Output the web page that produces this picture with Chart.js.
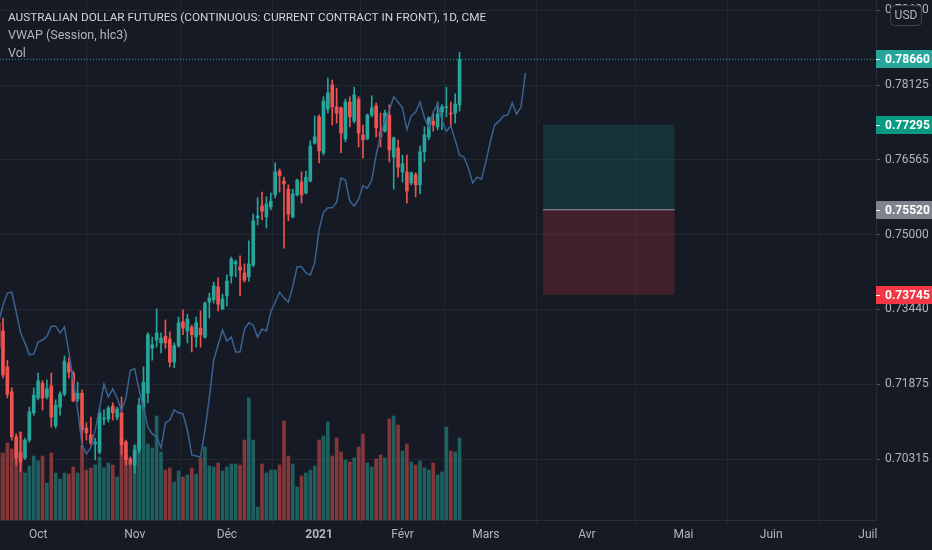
<!DOCTYPE html>
<html>
<head>
<meta charset="utf-8">
<script src="https://cdn.jsdelivr.net/npm/chart.js@4.4.1/dist/chart.umd.min.js"></script>
<style>
    html, body { margin: 0; padding: 0; background: #161A25; }
    #wrap { width: 932px; height: 550px; position: relative; }
</style>
</head>
<body>
<div id="wrap"><canvas id="grafico"></canvas></div>
<script>
// OHLC diario, barra 0 = meados de setembro 2020
const opens = [
    0.7316, 0.7299, 0.7224, 0.7172, 0.7078, 0.7046, 0.7034, 0.7071, 0.7128, 0.7159,
    0.7190, 0.7161, 0.7184, 0.7101, 0.7140, 0.7167, 0.7232, 0.7211, 0.7157, 0.7169,
    0.7096, 0.7082, 0.7063, 0.7046, 0.7115, 0.7115, 0.7142, 0.7119, 0.7128, 0.7067,
    0.7032, 0.7019, 0.7050, 0.7140, 0.7169, 0.7263, 0.7280, 0.7274, 0.7288, 0.7282,
    0.7234, 0.7268, 0.7318, 0.7299, 0.7307, 0.7286, 0.7305, 0.7286, 0.7359, 0.7364,
    0.7391, 0.7345, 0.7372, 0.7414, 0.7439, 0.7433, 0.7420, 0.7412, 0.7437, 0.7535,
    0.7560, 0.7537, 0.7558, 0.7583, 0.7633, 0.7612, 0.7595, 0.7537, 0.7583, 0.7610,
    0.7587, 0.7612, 0.7691, 0.7746, 0.7671, 0.7762, 0.7813, 0.7767, 0.7765, 0.7700,
    0.7777, 0.7737, 0.7783, 0.7708, 0.7700, 0.7750, 0.7769, 0.7714, 0.7716, 0.7750,
    0.7662, 0.7681, 0.7631, 0.7631, 0.7608, 0.7625, 0.7604, 0.7673, 0.7704, 0.7737,
    0.7725, 0.7756, 0.7765, 0.7754, 0.7754, 0.7771
];
const highs = [
    0.7326, 0.7326, 0.7238, 0.7180, 0.7084, 0.7088, 0.7075, 0.7140, 0.7180, 0.7211,
    0.7195, 0.7197, 0.7211, 0.7155, 0.7172, 0.7247, 0.7243, 0.7215, 0.7192, 0.7176,
    0.7107, 0.7119, 0.7075, 0.7138, 0.7134, 0.7142, 0.7149, 0.7140, 0.7161, 0.7071,
    0.7036, 0.7061, 0.7159, 0.7224, 0.7295, 0.7286, 0.7345, 0.7295, 0.7322, 0.7297,
    0.7274, 0.7328, 0.7343, 0.7334, 0.7311, 0.7328, 0.7341, 0.7359, 0.7378, 0.7401,
    0.7410, 0.7376, 0.7416, 0.7453, 0.7447, 0.7456, 0.7439, 0.7487, 0.7543, 0.7577,
    0.7589, 0.7579, 0.7587, 0.7650, 0.7637, 0.7620, 0.7604, 0.7595, 0.7616, 0.7631,
    0.7633, 0.7696, 0.7748, 0.7750, 0.7788, 0.7827, 0.7823, 0.7806, 0.7767, 0.7783,
    0.7788, 0.7808, 0.7788, 0.7729, 0.7752, 0.7790, 0.7775, 0.7754, 0.7760, 0.7771,
    0.7704, 0.7698, 0.7666, 0.7666, 0.7631, 0.7629, 0.7685, 0.7725, 0.7746, 0.7754,
    0.7777, 0.7771, 0.7808, 0.7777, 0.7794, 0.7881
];
const lows = [
    0.7255, 0.7201, 0.7159, 0.7071, 0.7019, 0.7005, 0.7030, 0.7067, 0.7123, 0.7155,
    0.7134, 0.7157, 0.7098, 0.7096, 0.7123, 0.7163, 0.7201, 0.7151, 0.7151, 0.7057,
    0.7071, 0.7061, 0.7030, 0.7042, 0.7103, 0.7109, 0.7113, 0.7113, 0.7040, 0.7019,
    0.7019, 0.7002, 0.7044, 0.7134, 0.7149, 0.7238, 0.7265, 0.7253, 0.7263, 0.7224,
    0.7222, 0.7265, 0.7291, 0.7274, 0.7255, 0.7265, 0.7265, 0.7284, 0.7326, 0.7357,
    0.7341, 0.7343, 0.7351, 0.7399, 0.7412, 0.7372, 0.7401, 0.7403, 0.7433, 0.7520,
    0.7531, 0.7514, 0.7552, 0.7577, 0.7589, 0.7472, 0.7529, 0.7535, 0.7581, 0.7566,
    0.7585, 0.7610, 0.7689, 0.7650, 0.7666, 0.7754, 0.7729, 0.7733, 0.7671, 0.7694,
    0.7725, 0.7733, 0.7683, 0.7660, 0.7698, 0.7746, 0.7704, 0.7683, 0.7714, 0.7652,
    0.7595, 0.7620, 0.7610, 0.7566, 0.7604, 0.7579, 0.7585, 0.7652, 0.7698, 0.7716,
    0.7719, 0.7719, 0.7746, 0.7725, 0.7733, 0.7758
];
const closes = [
    0.7265, 0.7207, 0.7167, 0.7078, 0.7034, 0.7025, 0.7071, 0.7130, 0.7165, 0.7195,
    0.7159, 0.7178, 0.7119, 0.7144, 0.7167, 0.7236, 0.7213, 0.7153, 0.7169, 0.7092,
    0.7086, 0.7065, 0.7067, 0.7128, 0.7117, 0.7138, 0.7128, 0.7136, 0.7061, 0.7030,
    0.7023, 0.7050, 0.7144, 0.7192, 0.7291, 0.7270, 0.7295, 0.7284, 0.7274, 0.7234,
    0.7268, 0.7316, 0.7305, 0.7324, 0.7291, 0.7316, 0.7291, 0.7357, 0.7368, 0.7393,
    0.7355, 0.7366, 0.7403, 0.7449, 0.7443, 0.7426, 0.7405, 0.7439, 0.7529, 0.7539,
    0.7549, 0.7564, 0.7570, 0.7631, 0.7623, 0.7606, 0.7543, 0.7585, 0.7614, 0.7583,
    0.7620, 0.7685, 0.7704, 0.7675, 0.7779, 0.7796, 0.7767, 0.7754, 0.7712, 0.7777,
    0.7746, 0.7792, 0.7712, 0.7698, 0.7750, 0.7765, 0.7723, 0.7704, 0.7754, 0.7677,
    0.7702, 0.7641, 0.7648, 0.7591, 0.7629, 0.7604, 0.7673, 0.7708, 0.7744, 0.7729,
    0.7752, 0.7767, 0.7767, 0.7752, 0.7773, 0.7866
];
// volume em milhares de contratos
const volumes = [
    67, 67, 77, 71, 77, 88, 47, 54, 64, 59,
    64, 37, 67, 47, 41, 47, 46, 53, 47, 74,
    50, 52, 55, 63, 52, 57, 55, 43, 81, 70,
    58, 75, 115, 114, 76, 72, 104, 68, 50, 52,
    38, 49, 43, 45, 52, 46, 62, 73, 54, 53,
    57, 49, 53, 56, 56, 55, 80, 122, 80, 13,
    56, 47, 50, 50, 55, 99, 64, 56, 33, 44,
    47, 50, 54, 80, 84, 98, 64, 82, 68, 60,
    58, 62, 73, 86, 57, 53, 61, 65, 62, 101,
    104, 95, 69, 76, 58, 55, 59, 52, 50, 57,
    45, 48, 93, 69, 68, 82
];
// VWAP (Session, hlc3) como aparece no grafico
const vwap = [
    0.7316, 0.7353, 0.7378, 0.7380, 0.7339, 0.7295, 0.7274, 0.7249, 0.7251, 0.7276,
    0.7280, 0.7288, 0.7309, 0.7309, 0.7295, 0.7307, 0.7255, 0.7197, 0.7134, 0.7061,
    0.7042, 0.7055, 0.7092, 0.7138, 0.7188, 0.7161, 0.7178, 0.7159, 0.7132, 0.7159,
    0.7217, 0.7220, 0.7176, 0.7140, 0.7098, 0.7084, 0.7078, 0.7055, 0.7107, 0.7113,
    0.7134, 0.7128, 0.7126, 0.7092, 0.7040, 0.7038, 0.7036, 0.7092, 0.7159, 0.7238,
    0.7270, 0.7301, 0.7278, 0.7286, 0.7255, 0.7255, 0.7303, 0.7316, 0.7311, 0.7286,
    0.7303, 0.7299, 0.7339, 0.7359, 0.7380, 0.7368, 0.7359, 0.7391, 0.7433, 0.7433,
    0.7420, 0.7416, 0.7441, 0.7510, 0.7547, 0.7556, 0.7556, 0.7568, 0.7618, 0.7614,
    0.7570, 0.7560, 0.7574, 0.7602, 0.7597, 0.7614, 0.7666, 0.7708, 0.7739, 0.7760,
    0.7788, 0.7777, 0.7765, 0.7719, 0.7748, 0.7756, 0.7777, 0.7744, 0.7723, 0.7756,
    0.7773, 0.7739, 0.7716, 0.7727, 0.7698, 0.7666, 0.7662, 0.7639, 0.7608, 0.7620,
    0.7616, 0.7652, 0.7694, 0.7729, 0.7737, 0.7748, 0.7750, 0.7775, 0.7752, 0.7767,
    0.7838
];

// eixo do tempo: indice da barra de cada mes
const mesesIndice = [9, 31, 52, 73, 92, 111, 134, 156, 176, 198];
const mesesRotulo = ['Oct', 'Nov', 'Déc', '2021', 'Févr', 'Mars', 'Avr', 'Mai', 'Juin', 'Juil'];
const precosTicks = [0.70315, 0.71875, 0.73440, 0.75000, 0.76565, 0.78125, 0.79690];

// posicao long (ferramenta de posicao)
const posicaoInicio = 124;
const posicaoFim = 154;
const precoAlvo = 0.77295;
const precoEntrada = 0.75520;
const precoStop = 0.73745;

const faixaX = { min: 0.317, max: 199.86 };
const faixaY = { min: 0.69042, max: 0.79900 };
const volumeMax = 520;

const cores = {
    alta: '#26A69A',
    baixa: '#EF5350',
    volAlta: 'rgba(38, 166, 154, 0.5)',
    volBaixa: 'rgba(239, 83, 80, 0.5)',
    vwap: '#3A6292',
    grade: 'rgba(42, 46, 57, 0.65)',
    borda: '#2A2E39',
    texto: '#B2B5BE',
};
const fonte = 'Roboto, "Noto Sans", sans-serif';

const ultimoPreco = closes[closes.length - 1];
const subiu = (i) => closes[i] >= opens[i];

const corpos = closes.map((c, i) => ({ x: i, y: [opens[i], c] }));
const pavios = closes.map((c, i) => ({ x: i, y: [lows[i], highs[i]] }));
const volumeDados = volumes.map((v, i) => ({ x: i, y: v }));
const vwapDados = vwap.map((v, i) => ({ x: i, y: v }));
const linhaHorizontal = (preco, de, ate) => [{ x: de, y: preco }, { x: ate, y: preco }];

const marcadores = [
    { valor: ultimoPreco, cor: '#26A69A' },
    { valor: precoAlvo, cor: '#089981' },
    { valor: precoEntrada, cor: '#80838D' },
    { valor: precoStop, cor: '#F23645' },
];

function semRespiro(escala) {
    escala.paddingTop = 0;
    escala.paddingBottom = 0;
    escala.paddingLeft = 0;
    escala.paddingRight = 0;
}

const sobreposicao = {
    id: 'sobreposicao',
    afterDraw(chart) {
        const { ctx, chartArea, scales } = chart;
        ctx.save();
        ctx.textBaseline = 'alphabetic';
        ctx.textAlign = 'left';
        ctx.font = '11.8px ' + fonte;
        ctx.fillStyle = '#D1D4DC';
        ctx.fillText('AUSTRALIAN DOLLAR FUTURES (CONTINUOUS: CURRENT CONTRACT IN FRONT), 1D, CME', 8, 21);
        ctx.font = '12.5px ' + fonte;
        ctx.fillStyle = cores.texto;
        ctx.fillText('VWAP (Session, hlc3)', 8, 39);
        ctx.fillText('Vol', 8, 57);

        // etiquetas de preco no eixo
        ctx.textBaseline = 'middle';
        ctx.font = 'bold 12px ' + fonte;
        marcadores.forEach((m) => {
            const y = Math.round(scales.y.getPixelForValue(m.valor));
            ctx.fillStyle = m.cor;
            ctx.fillRect(chartArea.right, y - 9, chart.width - chartArea.right, 18);
            ctx.fillStyle = '#FFFFFF';
            ctx.fillRect(chartArea.right, y, 4, 1);
            ctx.fillText(m.valor.toFixed(5), chartArea.right + 9, y + 1);
        });

        // selo USD
        const bx = 890, by = 5, bw = 31, bh = 20;
        ctx.fillStyle = '#161A25';
        ctx.strokeStyle = '#434651';
        ctx.lineWidth = 1;
        ctx.beginPath();
        ctx.roundRect(bx + 0.5, by + 0.5, bw, bh, 4);
        ctx.fill();
        ctx.stroke();
        ctx.fillStyle = cores.texto;
        ctx.font = '12px ' + fonte;
        ctx.textAlign = 'center';
        ctx.fillText('USD', bx + bw / 2 + 0.5, by + bh / 2 + 1);
        ctx.restore();
    }
};

const grafico = new Chart(document.getElementById('grafico'), {
    type: 'bar',
    data: {
        datasets: [
            {
                type: 'line',
                data: linhaHorizontal(precoAlvo, posicaoInicio, posicaoFim),
                borderColor: 'transparent',
                backgroundColor: 'rgba(8, 153, 129, 0.2)',
                fill: '+1',
                pointRadius: 0,
                order: 7,
            },
            {
                type: 'line',
                data: linhaHorizontal(precoEntrada, posicaoInicio, posicaoFim),
                borderColor: '#9598A1',
                borderWidth: 1,
                fill: false,
                pointRadius: 0,
                order: 6,
            },
            {
                type: 'line',
                data: linhaHorizontal(precoStop, posicaoInicio, posicaoFim),
                borderColor: 'transparent',
                backgroundColor: 'rgba(242, 54, 69, 0.2)',
                fill: '-1',
                pointRadius: 0,
                order: 7,
            },
            {
                type: 'bar',
                data: volumeDados,
                yAxisID: 'yVol',
                backgroundColor: (c) => subiu(c.dataIndex) ? cores.volAlta : cores.volBaixa,
                barThickness: 3,
                grouped: false,
                order: 5,
            },
            {
                type: 'line',
                data: linhaHorizontal(ultimoPreco, faixaX.min, faixaX.max),
                borderColor: cores.alta,
                borderWidth: 1,
                borderDash: [1, 2],
                pointRadius: 0,
                fill: false,
                order: 4,
            },
            {
                type: 'bar',
                data: pavios,
                backgroundColor: (c) => subiu(c.dataIndex) ? cores.alta : cores.baixa,
                barThickness: 1,
                grouped: false,
                order: 3,
            },
            {
                type: 'bar',
                data: corpos,
                backgroundColor: (c) => subiu(c.dataIndex) ? cores.alta : cores.baixa,
                barThickness: 3,
                minBarLength: 1,
                grouped: false,
                order: 2,
            },
            {
                type: 'line',
                data: vwapDados,
                borderColor: cores.vwap,
                borderWidth: 1.5,
                pointRadius: 0,
                tension: 0,
                fill: false,
                order: 1,
            },
        ]
    },
    options: {
        responsive: true,
        maintainAspectRatio: false,
        animation: false,
        layout: { padding: 0 },
        plugins: {
            legend: { display: false },
            tooltip: { enabled: false },
        },
        scales: {
            x: {
                type: 'linear',
                min: faixaX.min,
                max: faixaX.max,
                offset: false,
                grid: { color: cores.grade, tickLength: 4, tickColor: cores.borda },
                border: { color: cores.borda },
                ticks: {
                    color: cores.texto,
                    autoSkip: false,
                    maxRotation: 0,
                    padding: 4,
                    font: (c) => ({ family: fonte, size: 12, weight: mesesRotulo[c.index] === '2021' ? 'bold' : 'normal' }),
                    callback: (valor, i) => mesesRotulo[i],
                },
                afterBuildTicks: (escala) => { escala.ticks = mesesIndice.map((v) => ({ value: v })); },
                afterFit: (escala) => { escala.height = 30; semRespiro(escala); },
            },
            y: {
                type: 'linear',
                position: 'right',
                min: faixaY.min,
                max: faixaY.max,
                grid: { color: cores.grade, tickLength: 4, tickColor: '#50535E' },
                border: { color: cores.borda },
                ticks: {
                    color: cores.texto,
                    padding: 5,
                    font: { family: fonte, size: 12 },
                    callback: (valor) => valor.toFixed(5),
                },
                afterBuildTicks: (escala) => { escala.ticks = precosTicks.map((v) => ({ value: v })); },
                afterFit: (escala) => { escala.width = 56; semRespiro(escala); },
            },
            yVol: {
                type: 'linear',
                display: false,
                min: 0,
                max: volumeMax,
            },
        },
    },
    plugins: [sobreposicao],
});
</script>
</body>
</html>
